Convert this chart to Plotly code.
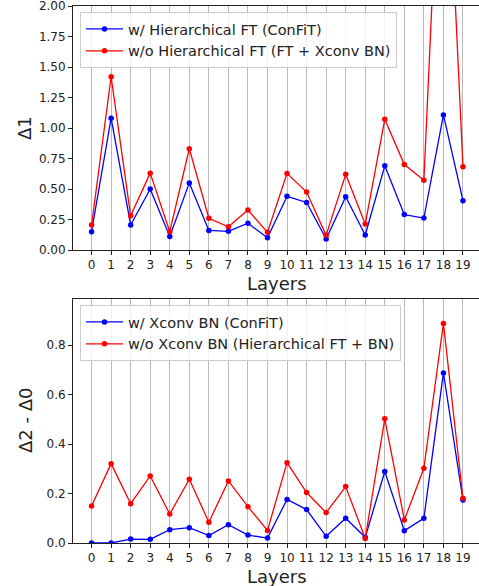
import plotly.graph_objects as go
from plotly.subplots import make_subplots

layers = list(range(20))
d1_with_hft = [0.15, 1.08, 0.205, 0.50, 0.11, 0.55, 0.16, 0.153, 0.22, 0.10,
               0.44, 0.39, 0.09, 0.437, 0.123, 0.69, 0.29, 0.262, 1.107, 0.404]
d1_without_hft = [0.205, 1.42, 0.28, 0.63, 0.15, 0.83, 0.26, 0.19, 0.328, 0.145,
                  0.628, 0.475, 0.12, 0.62, 0.213, 1.071, 0.70, 0.571, 4.1, 0.683]
d2_with_bn = [0.0, 0.0, 0.016, 0.015, 0.054, 0.062, 0.030, 0.074, 0.032, 0.020,
              0.176, 0.135, 0.027, 0.100, 0.023, 0.289, 0.050, 0.100, 0.688, 0.174]
d2_without_bn = [0.150, 0.321, 0.159, 0.271, 0.117, 0.258, 0.084, 0.251, 0.147, 0.051,
                 0.325, 0.204, 0.123, 0.228, 0.018, 0.502, 0.093, 0.302, 0.888, 0.181]

top_names = ["w/ Hierarchical FT (ConFiT)", "w/o Hierarchical FT (FT + Xconv BN)"]
bottom_names = ["w/ Xconv BN (ConFiT)", "w/o Xconv BN (Hierarchical FT + BN)"]

FONT = "DejaVu Sans"
BLUE = "#0000ff"
RED = "#ff0000"

fig = make_subplots(rows=2, cols=1)

def add(y, name, color, row, legend):
    fig.add_trace(go.Scatter(
        x=layers, y=y, name=name, mode="lines+markers",
        line=dict(color=color, width=1.3),
        marker=dict(color=color, size=5.5),
        legend=legend, cliponaxis=True,
    ), row=row, col=1)

add(d1_with_hft, top_names[0], BLUE, 1, "legend")
add(d1_without_hft, top_names[1], RED, 1, "legend")
add(d2_with_bn, bottom_names[0], BLUE, 2, "legend2")
add(d2_without_bn, bottom_names[1], RED, 2, "legend2")

H = 586
t, b = 6, 43
ph = H - t - b
def py(pix):
    return (H - b - pix) / ph

axis_common = dict(
    showline=True, linecolor="#222", linewidth=1,
    ticks="outside", ticklen=4, tickcolor="#222", tickwidth=1,
    tickfont=dict(family=FONT, size=12, color="#222"),
    zeroline=False, ticklabeloverflow="allow",
)
xa = dict(axis_common, range=[-0.95, 19.82], tickmode="array", tickvals=layers,
          ticktext=[str(v) for v in layers], showgrid=True,
          gridcolor="#b8b8b8", gridwidth=1, mirror=True)
fig.update_xaxes(**xa)
fig.update_xaxes(domain=[0, 1])
fig.update_yaxes(**axis_common, showgrid=False)
fig.update_yaxes(range=[0, 2.0], tickvals=[0, 0.25, 0.5, 0.75, 1.0, 1.25, 1.5, 1.75, 2.0],
                 tickformat=".2f", domain=[py(250), py(6)], row=1, col=1)
fig.update_yaxes(range=[0, 0.988], tickvals=[0, 0.2, 0.4, 0.6, 0.8],
                 tickformat=".1f", domain=[0, py(298.7)], row=2, col=1)

leg = dict(bgcolor="rgba(255,255,255,0.8)", bordercolor="#cccccc", borderwidth=1,
           font=dict(family=FONT, size=14.5, color="#222"), xanchor="left", yanchor="top",
           tracegroupgap=0, itemwidth=37)
fig.update_layout(
    width=479, height=H,
    margin=dict(l=73, r=0, t=t, b=b),
    plot_bgcolor="white", paper_bgcolor="white",
    showlegend=True,
    legend=dict(leg, x=(80 - 73) / 406, y=py(12)),
    legend2=dict(leg, x=(80 - 73) / 406, y=py(305)),
    font=dict(family=FONT, color="#222"),
)

# axis titles
for ytxt, ypix in [("Δ1", 128), ("Δ2 - Δ0", 421)]:
    fig.add_annotation(text=ytxt, xref="paper", yref="paper", x=-(73 - 25) / 406, y=py(ypix),
                       textangle=-90, showarrow=False, font=dict(family=FONT, size=18, color="#222"),
                       xanchor="center", yanchor="middle")
for ypix in [283, 576]:
    fig.add_annotation(text="Layers", xref="paper", yref="paper", x=(277 - 73) / 406, y=py(ypix),
                       showarrow=False, font=dict(family=FONT, size=18, color="#222"),
                       xanchor="center", yanchor="middle")

fig.write_html("out.html", config={"displayModeBar": False},
               post_script="document.body.style.margin='0';document.body.style.overflow='hidden';")
